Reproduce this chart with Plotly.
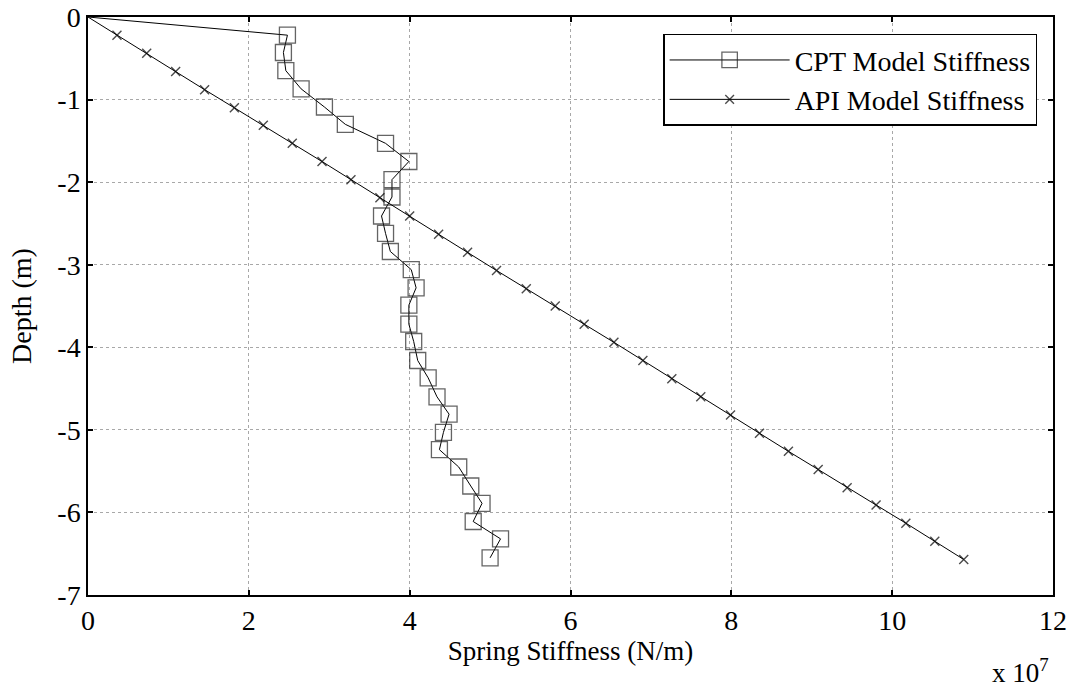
import plotly.graph_objects as go

# Depth below ground (m)
depth = [0.0, -0.22, -0.43, -0.65, -0.87, -1.09, -1.30, -1.53, -1.75, -1.97, -2.18,
         -2.41, -2.62, -2.84, -3.06, -3.28, -3.49, -3.72, -3.93, -4.16, -4.37,
         -4.60, -4.81, -5.03, -5.24, -5.45, -5.68, -5.89, -6.11, -6.32, -6.55]

# Spring stiffness in units of 1e7 N/m
cpt_stiffness = [0.0, 2.48, 2.43, 2.46, 2.65, 2.94, 3.20, 3.70, 3.99, 3.78, 3.78,
                 3.65, 3.70, 3.76, 4.02, 4.08, 3.99, 3.99, 4.05, 4.10, 4.23,
                 4.34, 4.49, 4.42, 4.37, 4.61, 4.76, 4.90, 4.79, 5.13, 5.00]

api_depth = [0.0, -0.22, -0.44, -0.66, -0.88, -1.10, -1.31, -1.53, -1.75, -1.97, -2.19,
             -2.41, -2.63, -2.85, -3.07, -3.29, -3.50, -3.72, -3.94, -4.16, -4.38,
             -4.60, -4.82, -5.04, -5.26, -5.48, -5.70, -5.91, -6.13, -6.35, -6.57]
api_stiffness = [0.0, 0.36, 0.73, 1.09, 1.45, 1.82, 2.18, 2.54, 2.91, 3.27, 3.63,
                 4.00, 4.36, 4.72, 5.08, 5.45, 5.81, 6.17, 6.54, 6.90, 7.26,
                 7.62, 7.99, 8.35, 8.71, 9.08, 9.44, 9.80, 10.17, 10.53, 10.89]

x_ticks = [0, 2, 4, 6, 8, 10, 12]
y_ticks = [0, -1, -2, -3, -4, -5, -6, -7]

FONT = "Liberation Serif"

fig = go.Figure()
fig.add_trace(go.Scatter(
    x=cpt_stiffness, y=depth, mode="lines+markers", name="CPT Model Stiffness",
    legendgroup="cpt",
    line=dict(color="black", width=1),
    marker=dict(symbol="square-open", size=[0] + [16] * (len(depth) - 1),
                color="#222222", line=dict(width=1.3, color="#222222")),
))
fig.add_trace(go.Scatter(
    x=api_stiffness, y=api_depth, mode="lines+markers", name="API Model Stiffness",
    legendgroup="api",
    line=dict(color="black", width=1),
    marker=dict(symbol="x-thin", size=[0] + [9] * (len(api_depth) - 1),
                color="black", line=dict(width=1.4, color="black")),
))

axis_common = dict(
    showline=True, linecolor="black", linewidth=1.5, mirror="allticks",
    ticks="inside", ticklen=5, tickcolor="black", tickwidth=1.5,
    showgrid=True, gridcolor="#a8a8a8", gridwidth=1, griddash="dot",
    zeroline=False, automargin=False, ticklabeloverflow="allow",
    tickfont=dict(family=FONT, size=28, color="black"),
)

fig.update_xaxes(range=[0, 12], tickvals=x_ticks, ticktext=[str(v) for v in x_ticks],
                 title=dict(text="Spring Stiffness (N/m)", font=dict(family=FONT, size=27, color="black"),
                            standoff=6),
                 **axis_common)
fig.update_yaxes(range=[-7, 0], tickvals=y_ticks, ticktext=[str(v) for v in y_ticks],
                 title=dict(text="Depth (m)", font=dict(family=FONT, size=28, color="black"),
                            standoff=18),
                 **axis_common)

fig.add_annotation(text="x 10<sup>7</sup>", xref="paper", yref="paper",
                   x=0.935, y=-0.131, xanchor="left", yanchor="middle", showarrow=False,
                   font=dict(family=FONT, size=27, color="black"))

fig.update_layout(
    width=1070, height=687,
    margin=dict(l=88, r=17, t=17, b=92, autoexpand=False),
    paper_bgcolor="white", plot_bgcolor="white",
    showlegend=True,
    legend=dict(x=0.596, y=0.971, xanchor="left", yanchor="top",
                bgcolor="white", bordercolor="black", borderwidth=1.5,
                font=dict(family=FONT, size=28, color="black"),
                itemwidth=120, tracegroupgap=0),
)

fig.write_html("out.html", config={"displayModeBar": False},
               post_script="document.body.style.margin='0px';document.body.style.overflow='hidden';")
